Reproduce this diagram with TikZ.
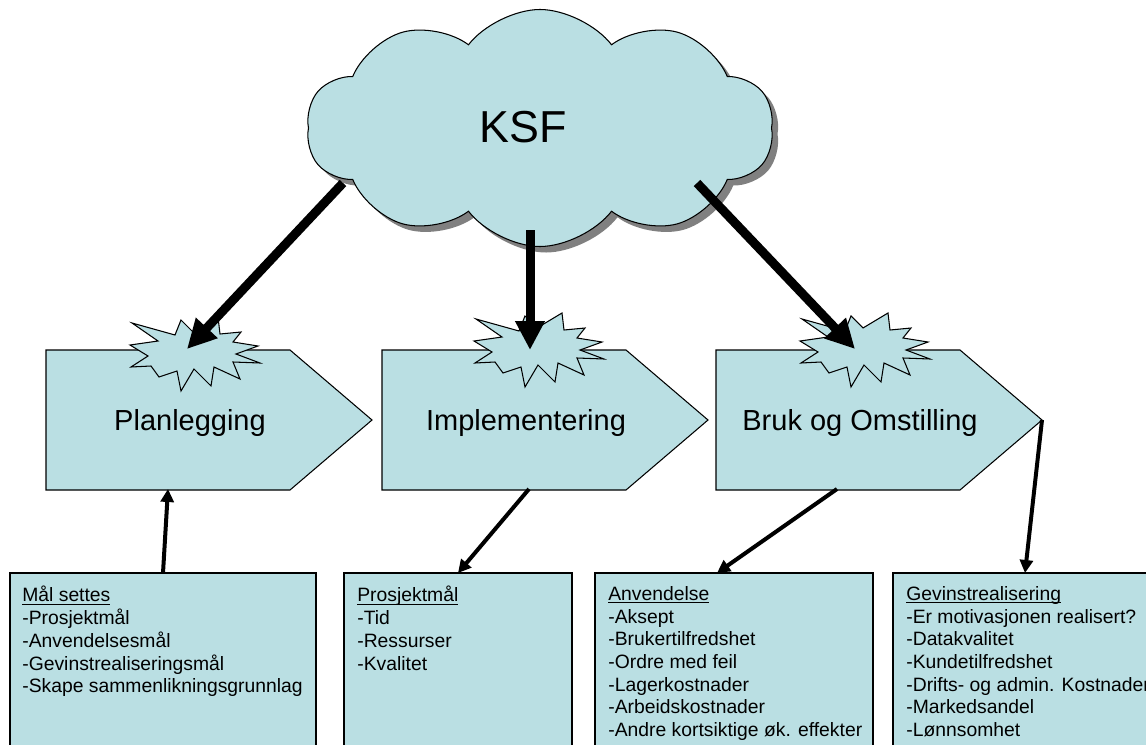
\documentclass[tikz,border=0pt]{standalone}
\usepackage{fontspec}
\setmainfont{Liberation Sans}
\usetikzlibrary{arrows.meta,shapes.symbols}
\definecolor{boxfill}{RGB}{186,223,227}
\definecolor{shadecol}{RGB}{128,128,128}
\newcommand\undl[1]{\underline{\raisebox{0pt}[\height][0pt]{#1}}}
\newcommand\burst[2]{%
 \draw[burststyle, shift={(#1,#2)}] (-63,-31) -- (-20,-19) -- (-14,-34) -- (-2,-22) -- (23,-37) -- (25,-20) -- (46,-22) -- (38,-12) -- (63,-8) -- (41,0) -- (65,9) -- (38,8) -- (45,25) -- (19,13) -- (16,32) -- (-1,15) -- (-14,37) -- (-18,17) -- (-36,23) -- (-44,12) -- (-64,13) -- (-47,2) -- (-65,-9) -- (-37,-13) -- cycle;}
\begin{document}
\begin{tikzpicture}[x=0.02cm, y=-0.02cm,
  cloudshape/.style={cloud, cloud puffs=10, cloud puff arc=105, aspect=1.97,
    minimum width={467*0.02cm}, minimum height={237*0.02cm}, inner sep=0pt},
  stage/.style={draw=black, line width=0.6pt, fill=boxfill},
  burststyle/.style={draw=black, line width=0.6pt, fill=boxfill, line join=miter},
  stagetext/.style={anchor=base, font=\fontsize{16.5pt}{19pt}\selectfont},
  infobox/.style={draw=black, line width=0.6pt, fill=boxfill},
  infotext/.style={anchor=north west, inner sep=0pt, align=left, font=\fontsize{11pt}{12.93pt}\selectfont},
  bigarrow/.style={line width={9*0.02cm}, -{Triangle[length={29*0.02cm}, width={28*0.02cm}]}},
  smallarrow/.style={line width={4*0.02cm}, -{Triangle[length={13*0.02cm}, width={13*0.02cm}]}}]
\clip (0,0) rectangle (1146,744);
\fill[white] (0,0) rectangle (1146,744);
% cloud
\node[cloudshape, fill=shadecol] (ksfshadow) at (546,134) {};
\node[cloudshape, fill=boxfill, draw=black, line width=0.6pt] (ksf) at (540,128) {};
\node[anchor=base, font=\fontsize{25.5pt}{30pt}\selectfont] (ksftext) at (523,142) {KSF};
% stages
\draw[stage] (46,350) -- (290,350) -- (372,420) -- (290,490) -- (46,490) -- cycle;
\draw[stage] (382,350) -- (626,350) -- (708,420) -- (626,490) -- (382,490) -- cycle;
\draw[stage] (716,350) -- (960,350) -- (1042,420) -- (960,490) -- (716,490) -- cycle;
\node[stagetext] (plan) at (190,430) {Planlegging};
\node[stagetext] (impl) at (526,430) {Implementering};
\node[stagetext] (bruk) at (860,430) {Bruk og Omstilling};
\burst{195}{354}
\burst{539}{350}
\burst{865}{350}
% info boxes
\draw[infobox] (10,573) rectangle (316,760);
\draw[infobox] (344,573) rectangle (572,760);
\draw[infobox] (595,573) rectangle (873,760);
\draw[infobox] (893,573) rectangle (1170,760);
\node[infotext] (maal) at (22,586) {\undl{Mål settes}\\-Prosjektmål\\-Anvendelsesmål\\-Gevinstrealiseringsmål\\-Skape sammenlikningsgrunnlag};
\node[infotext] (prosj) at (357,586) {\undl{Prosjektmål}\\-Tid\\-Ressurser\\-Kvalitet};
\node[infotext] (anv) at (608,586) {\undl{Anvendelse}\\-Aksept\\-Brukertilfredshet\\-Ordre med feil\\-Lagerkostnader\\-Arbeidskostnader\\-Andre kortsiktige øk. effekter};
\node[infotext] (gev) at (906,586) {\undl{Gevinstrealisering}\\-Er motivasjonen realisert?\\-Datakvalitet\\-Kundetilfredshet\\-Drifts- og admin. Kostnader\\-Markedsandel\\-Lønnsomhet};
% connector coordinates
\coordinate (c1) at (343,183); \coordinate (t1) at (187,349);
\coordinate (c2) at (530,230); \coordinate (t2) at (530,350);
\coordinate (c3) at (697,183); \coordinate (t3) at (855,349);
\coordinate (a1s) at (163,573); \coordinate (a1e) at (168,489);
\coordinate (a2s) at (529,489); \coordinate (a2e) at (458,573);
\coordinate (a3s) at (837,489); \coordinate (a3e) at (717,573);
\coordinate (a4s) at (1042,420); \coordinate (a4e) at (1025,573);
\draw[bigarrow] (c1) -- (t1);
\draw[bigarrow] (c2) -- (t2);
\draw[bigarrow] (c3) -- (t3);
\draw[smallarrow] (a1s) -- (a1e);
\draw[smallarrow] (a2s) -- (a2e);
\draw[smallarrow] (a3s) -- (a3e);
\draw[smallarrow] (a4s) -- (a4e);
\end{tikzpicture}
\end{document}
